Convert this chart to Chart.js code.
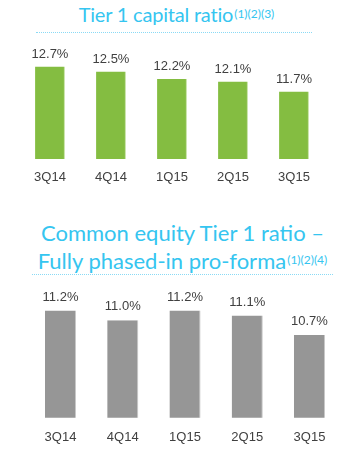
<!DOCTYPE html>
<html>
<head>
<meta charset="utf-8">
<script src="https://cdn.jsdelivr.net/npm/chart.js@4"></script>
<style>
  html, body { margin:0; padding:0; background:#fff; }
  body { width:359px; height:460px; position:relative; overflow:hidden; font-family:"Lato", sans-serif; }
  .title { position:absolute; left:0; width:359px; text-align:center; color:#35C5F0; white-space:nowrap; }
  .title sup { font-size:12px; vertical-align:top; position:relative; top:-1px; margin-left:1px; letter-spacing:0; }
  .dots { position:absolute; height:0; border-top:1.5px dotted #8ADAF5; }
  .wrap { position:absolute; left:0; width:359px; }
</style>
</head>
<body>
<div class="title" id="t1" style="top:1px; font-size:20px; letter-spacing:-0.2px; line-height:27px; left:-3px;">Tier 1 capital ratio<sup>(1)(2)(3)</sup></div>
<div class="dots" style="left:36px; width:276px; top:32px;"></div>
<div class="wrap" style="top:40px; height:150px;"><canvas id="c1"></canvas></div>

<div class="title" id="t2" style="top:219px; font-size:22px; line-height:28px; left:3px;">Common equity Tier 1 ratio –<br>Fully phased-in pro-forma<sup>(1)(2)(4)</sup></div>
<div class="dots" style="left:32px; width:301px; top:274px;"></div>
<div class="wrap" style="top:280px; height:170px;"><canvas id="c2"></canvas></div>

<script>
const categories = ["3Q14", "4Q14", "1Q15", "2Q15", "3Q15"];
const tier1Ratio = [12.7, 12.5, 12.2, 12.1, 11.7];
const cet1FullyPhased = [11.2, 11.0, 11.2, 11.1, 10.7];

const barLabels = {
  id: 'barLabels',
  afterDatasetsDraw(chart, args, opts) {
    const ctx = chart.ctx;
    const meta = chart.getDatasetMeta(0);
    const data = chart.data.datasets[0].data;
    const xScale = chart.scales.x;
    ctx.save();
    ctx.font = '13px "Liberation Sans", sans-serif';
    ctx.fillStyle = '#404040';
    ctx.textAlign = 'center';
    ctx.textBaseline = 'middle';
    meta.data.forEach((bar, i) => {
      ctx.fillText(data[i].toFixed(1) + '%', bar.x, bar.y - opts.gap);
    });
    chart.data.labels.forEach((lab, i) => {
      ctx.fillText(lab, xScale.getPixelForTick(i), chart.chartArea.bottom + opts.tickGap);
    });
    ctx.restore();
  }
};

function makeChart(id, values, color, border, yMax, padding, gap, tickGap, barPct) {
  return new Chart(document.getElementById(id), {
    type: 'bar',
    data: {
      labels: categories,
      datasets: [{
        data: values,
        backgroundColor: color,
        borderColor: border,
        borderWidth: {top:0, left:0, right:1, bottom:0},
        borderSkipped: false,
        categoryPercentage: 1,
        barPercentage: barPct
      }]
    },
    options: {
      responsive: true,
      maintainAspectRatio: false,
      animation: false,
      devicePixelRatio: 1,
      layout: { padding: padding },
      plugins: { legend: { display:false }, tooltip: { enabled:false }, barLabels: { gap: gap, tickGap: tickGap } },
      scales: {
        x: { display:false, offset: true },
        y: { display:false, min:9, max:yMax }
      }
    },
    plugins: [barLabels]
  });
}

makeChart('c1', tier1Ratio, '#84BD41', '#C6E2A4', 13,
  { left:19.5, right:34.5, top:19, bottom:31 }, 12.5, 18.5, 0.49);
makeChart('c2', cet1FullyPhased, '#969696', '#C8C8C8', 11.5,
  { left:29.4, right:18.4, top:16, bottom:32.3 }, 13.5, 19.3, 0.5);
</script>
</body>
</html>
